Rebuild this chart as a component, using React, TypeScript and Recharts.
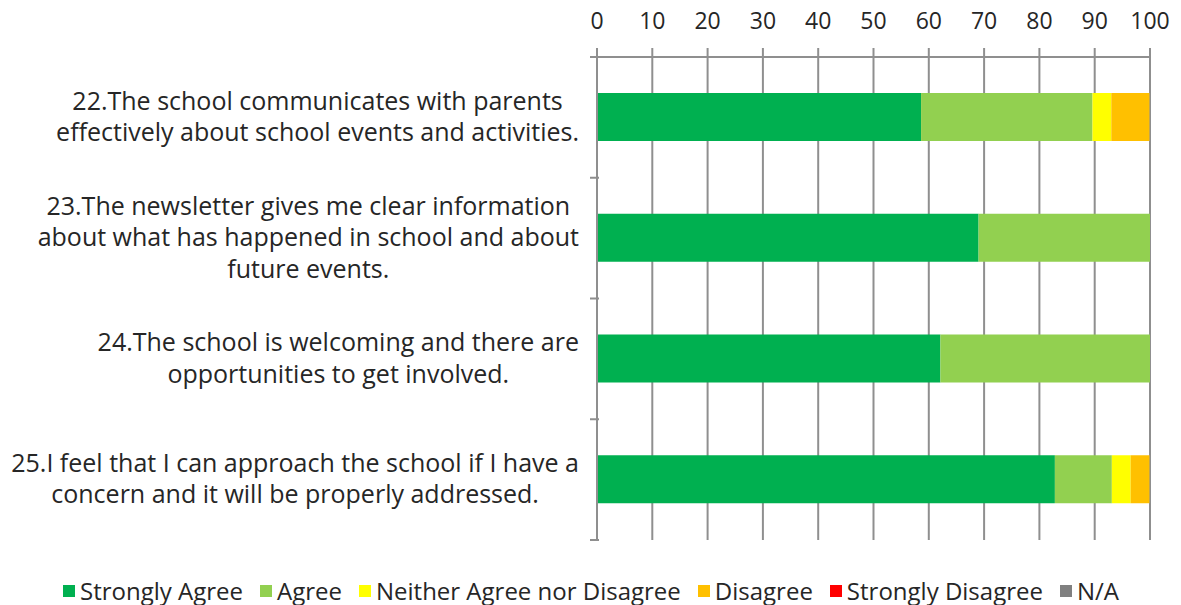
import React from "react";
import {
  BarChart,
  Bar,
  XAxis,
  YAxis,
  CartesianGrid,
  Legend,
} from "recharts";

// Survey questions (each entry is a list of wrapped lines)
const questions = [
  ["22.The school communicates with parents", "effectively about school events and activities."],
  ["23.The newsletter gives me clear information", "about what has happened in school and about", "future events."],
  ["24.The school is welcoming and there are", "opportunities to get involved."],
  ["25.I feel that I can approach the school if I have a", "concern and it will be properly addressed."],
];

// percentages per response
const stronglyAgree = [58.6, 69.0, 62.1, 82.8];
const agree = [31.0, 31.0, 37.9, 10.3];
const neither = [3.4, 0, 0, 3.4];
const disagree = [6.9, 0, 0, 3.4];
const stronglyDisagree = [0, 0, 0, 0];
const notApplicable = [0, 0, 0, 0];

const xTicks = [0, 10, 20, 30, 40, 50, 60, 70, 80, 90, 100];

const series = [
  { key: "sa", name: "Strongly Agree", color: "#00B050" },
  { key: "a", name: "Agree", color: "#92D050" },
  { key: "n", name: "Neither Agree nor Disagree", color: "#FFFF00" },
  { key: "d", name: "Disagree", color: "#FFC000" },
  { key: "sd", name: "Strongly Disagree", color: "#FF0000" },
  { key: "na", name: "N/A", color: "#808080" },
];

const data = questions.map((lines, i) => ({
  name: lines.join(" "),
  lines,
  sa: stronglyAgree[i],
  a: agree[i],
  n: neither[i],
  d: disagree[i],
  sd: stronglyDisagree[i],
  na: notApplicable[i],
}));

const FONT = "'Open Sans', 'Liberation Sans', Arial, sans-serif";
const LABEL_SIZE = 25;
const GRID = "#8f8f8f";

const W = 1181;
const H = 605;
const TOP = 57; // x axis line
const BOTTOM = 540; // bottom of plot
const band = (BOTTOM - TOP) / questions.length;

let ctx: CanvasRenderingContext2D | null = null;
function textWidth(s: string) {
  if (!ctx) ctx = document.createElement("canvas").getContext("2d");
  if (!ctx) return s.length * 12;
  ctx.font = `${LABEL_SIZE}px ${FONT}`;
  return ctx.measureText(s).width;
}

// category label: lines centred inside a block that is right-aligned to the axis
const QuestionTick = (props: any) => {
  const { x, y, payload, index } = props;
  const row = data.find((d) => d.name === payload.value);
  const lines = row ? row.lines : [payload.value];
  const maxW = Math.max(...lines.map(textWidth));
  const right = x - 10;
  const cx = right - maxW / 2;
  const lh = 31.5;
  const y0 = y - 2 - ((lines.length - 1) * lh) / 2;
  const axisX = x + 10;
  return (
    <g>
      <text
        x={cx}
        y={y0}
        textAnchor="middle"
        dominantBaseline="central"
        fontFamily={FONT}
        fontSize={LABEL_SIZE}
        fill="#262626"
      >
        {lines.map((l: string, k: number) => (
          <tspan key={k} x={cx} y={y0 + k * lh}>
            {l}
          </tspan>
        ))}
      </text>
      <line x1={axisX - 9} x2={axisX} y1={y - band / 2} y2={y - band / 2} stroke={GRID} strokeWidth={2} />
      {index === questions.length - 1 && (
        <line x1={axisX - 9} x2={axisX} y1={y + band / 2} y2={y + band / 2} stroke={GRID} strokeWidth={2} />
      )}
    </g>
  );
};

const PercentTick = (props: any) => {
  const { x, payload } = props;
  return (
    <g>
      <line x1={x} x2={x} y1={TOP - 9} y2={TOP} stroke={GRID} strokeWidth={2} />
      <text x={x} y={20} textAnchor="middle" dominantBaseline="central" fontFamily={FONT} fontSize={23} fill="#262626">
        {payload.value}
      </text>
    </g>
  );
};

const LegendContent = () => (
  <div
    style={{
      display: "flex",
      justifyContent: "center",
      alignItems: "center",
      height: 30,
      paddingLeft: 32,
      gap: 17,
      fontFamily: FONT,
      fontSize: 24,
      lineHeight: "28px",
      color: "#262626",
    }}
  >
    {series.map((s) => (
      <span key={s.key} style={{ display: "flex", alignItems: "center", gap: 5 }}>
        <span style={{ width: 12, height: 12, background: s.color, display: "inline-block" }} />
        {s.name}
      </span>
    ))}
  </div>
);

export default function App() {
  return (
    <div style={{ position: "absolute", left: 0, top: 0, width: W, height: H, background: "#fff" }}>
      <BarChart
        width={W}
        height={H}
        data={data}
        layout="vertical"
        barSize={48}
        margin={{ top: 0, right: 31, left: 0, bottom: 35 }}
      >
        <CartesianGrid horizontal={false} stroke={GRID} strokeWidth={2} />
        <XAxis
          type="number"
          orientation="top"
          domain={[0, 100]}
          ticks={xTicks}
          height={TOP}
          axisLine={{ stroke: GRID, strokeWidth: 2 }}
          tickLine={false}
          tick={<PercentTick />}
          interval={0}
        />
        <YAxis
          type="category"
          dataKey="name"
          width={597}
          axisLine={{ stroke: GRID, strokeWidth: 2 }}
          tickLine={false}
          tick={<QuestionTick />}
          interval={0}
        />
        <Legend verticalAlign="bottom" height={30} content={<LegendContent />} wrapperStyle={{ bottom: 0, top: 576, height: 30 }} />
        {series.map((s) => (
          <Bar key={s.key} dataKey={s.key} name={s.name} stackId="q" fill={s.color} isAnimationActive={false} />
        ))}
      </BarChart>
    </div>
  );
}
